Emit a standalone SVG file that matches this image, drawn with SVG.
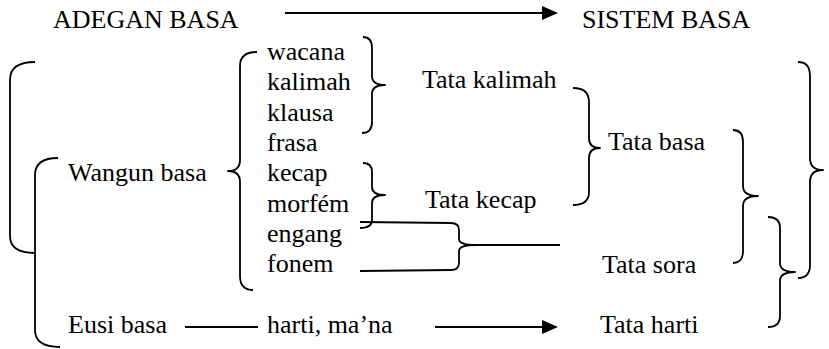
<svg xmlns="http://www.w3.org/2000/svg" width="829" height="349" viewBox="0 0 829 349" font-family="'Liberation Serif', 'DejaVu Serif', serif">
  <style>
    text { font-family: 'Liberation Serif', 'DejaVu Serif', serif; font-size: 26px; fill: #000; }
    .ln { fill: none; stroke: #000; stroke-width: 1.8; stroke-linecap: butt; stroke-linejoin: round; }
    .head { fill: #000; stroke: none; }
  </style>
  <rect width="829" height="349" fill="#fff"/>

  <!-- headings -->
  <g id="adegan-basa"><text x="53" y="28">ADEGAN BASA</text></g>
  <g id="sistem-basa"><text x="582" y="28">SISTEM BASA</text></g>

  <!-- left column -->
  <g id="wangun-basa"><text x="68" y="181">Wangun basa</text></g>
  <g id="eusi-basa"><text x="68" y="333">Eusi basa</text></g>

  <!-- units of form -->
  <g id="wacana"><text x="267" y="60">wacana</text></g>
  <g id="kalimah"><text x="267" y="90">kalimah</text></g>
  <g id="klausa"><text x="267" y="120.5">klausa</text></g>
  <g id="frasa"><text x="267" y="151">frasa</text></g>
  <g id="kecap"><text x="267" y="181">kecap</text></g>
  <g id="morfem"><text x="267" y="211.5">morfém</text></g>
  <g id="engang"><text x="267" y="242">engang</text></g>
  <g id="fonem"><text x="267" y="272">fonem</text></g>
  <g id="harti"><text x="267" y="333">harti, ma’na</text></g>

  <!-- systems -->
  <g id="tata-kalimah"><text x="422" y="88">Tata kalimah</text></g>
  <g id="tata-kecap"><text x="425" y="208">Tata kecap</text></g>
  <g id="tata-basa"><text x="608" y="150">Tata basa</text></g>
  <g id="tata-sora"><text x="602" y="273">Tata sora</text></g>
  <g id="tata-harti"><text x="600" y="333">Tata harti</text></g>

  <g id="connectors">
    <!-- heading arrow -->
    <path class="ln" d="M285 13 L545 13"/>
    <polygon class="head" points="542,6 558,13 542,20"/>

    <!-- outer left bracket -->
    <path class="ln" d="M35 62 Q10 62 10 80 L10 236 Q10 253 35 253"/>
    <!-- inner left bracket: Wangun basa / Eusi basa -->
    <path class="ln" d="M58 158 Q35 158 35 175 L35 330 Q35 347 60 347"/>

    <!-- brace: Wangun basa -->
    <path class="ln" d="M257 52 Q240 52 240 66 L240 160 Q240 171 228 171 Q240 171 240 182 L240 276 Q240 290 253 290"/>

    <!-- brace: wacana, kalimah, klausa -->
    <path class="ln" d="M363 37 Q372 37 372 48 L372 76 Q372 85 385 85 Q372 85 372 94 L372 122 Q372 133 362 133"/>
    <!-- brace: kecap, morfém -->
    <path class="ln" d="M363 163 Q372 163 372 172 L372 187 Q372 195 385 195 Q372 195 372 203 L372 220 Q372 228 360 228"/>

    <!-- fork: engang, fonem -->
    <path class="ln" d="M360 222 L451 223 Q459 223 459 230 L459 239 Q459 245 476 245 L560 245"/>
    <path class="ln" d="M360 271 L451 270 Q459 270 459 263 L459 251 Q459 245 476 245"/>

    <!-- brace: Tata kalimah, Tata kecap -->
    <path class="ln" d="M573 88 Q589 88 589 102 L589 138 Q589 148 600 148 Q589 148 589 158 L589 192 Q589 205 573 205"/>
    <!-- brace: Tata basa, Tata sora -->
    <path class="ln" d="M733 130 Q743 130 743 142 L743 186 Q743 196 758 196 Q743 196 743 206 L743 251 Q743 263 733 263"/>
    <!-- brace: Tata sora, Tata harti -->
    <path class="ln" d="M768 217 Q780 217 780 228 L780 263 Q780 272 795 272 Q780 272 780 281 L780 316 Q780 327 768 327"/>
    <!-- outer right brace -->
    <path class="ln" d="M798 62 Q810 62 810 76 L810 158 Q810 170 823 170 Q810 170 810 182 L810 265 Q810 278 798 278"/>

    <!-- Eusi basa to harti -->
    <path class="ln" d="M185 327 L258 327"/>
    <!-- harti to Tata harti -->
    <path class="ln" d="M435 327 L545 327"/>
    <polygon class="head" points="542,320 558,327 542,334"/>
  </g>
</svg>
